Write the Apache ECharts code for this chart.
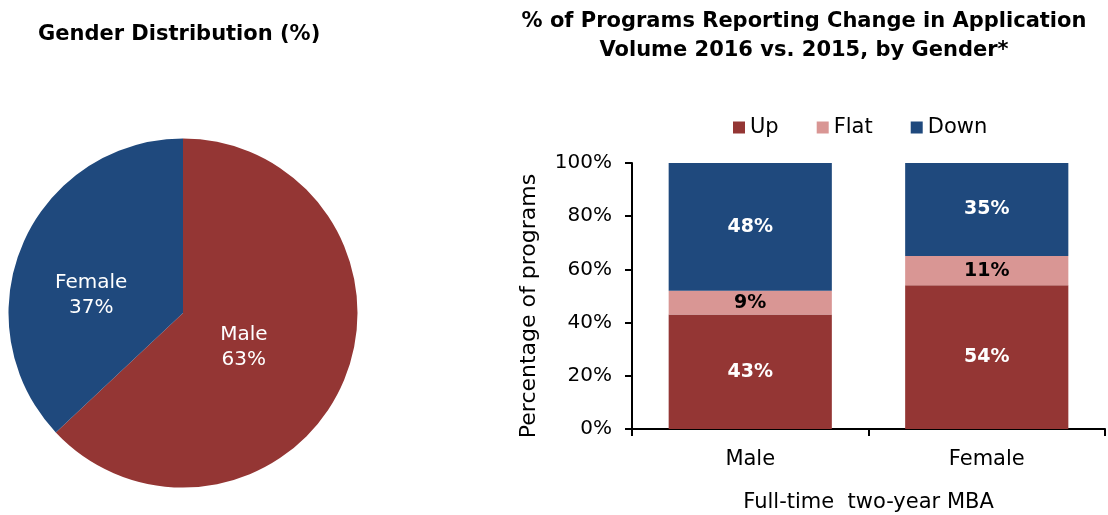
<!DOCTYPE html>
<html><head><meta charset="utf-8">
<script src="https://cdn.jsdelivr.net/npm/echarts@6/dist/echarts.min.js"></script>
<style>html,body{margin:0;padding:0;background:#fff}#c{width:1108px;height:515px}</style>
</head><body><div id="c"></div>
<script>
const pieNames = ['Male', 'Female'];
const pieValues = [63, 37];
const categories = ['Male', 'Female'];
const upValues = [43, 54];
const flatValues = [9, 11];
const downValues = [48, 35];
const yTicks = [0, 20, 40, 60, 80, 100];

const RED = '#943634', PINK = '#D99694', BLUE = '#1F497D';
const FONT = 'DejaVu Sans';
const chart = echarts.init(document.getElementById('c'));
function barSeries(name, data, color, labelColor) {
  return {
    name, type: 'bar', stack: 'a', data, barCategoryGap: '31%',
    itemStyle: { color },
    label: { show: true, position: 'inside', formatter: '{c}%', color: labelColor, fontSize: 19, fontWeight: 'bold', fontFamily: FONT }
  };
}
chart.setOption({
  animation: false,
  textStyle: { fontFamily: FONT },
  title: [
    { text: 'Gender Distribution (%)', left: 33, top: 19, textStyle: { fontSize: 21, fontWeight: 'bold', color: '#000', fontFamily: FONT } },
    { text: '% of Programs Reporting Change in Application\nVolume 2016 vs. 2015, by Gender*', left: 799, textAlign: 'center', top: 2, textStyle: { fontSize: 21, fontWeight: 'bold', color: '#000', lineHeight: 29, fontFamily: FONT } }
  ],
  legend: {
    data: ['Up', 'Flat', 'Down'], left: 733, top: 117, padding: 0, itemWidth: 12, itemHeight: 12, itemGap: 38,
    icon: 'rect', textStyle: { fontSize: 21, color: '#000', fontFamily: FONT }
  },
  grid: { left: 632, right: 3, top: 163, bottom: 86, outerBoundsMode: 'none', containLabel: false },
  xAxis: {
    type: 'category', data: categories,
    name: 'Full-time  two-year MBA', nameLocation: 'middle', nameGap: 63,
    nameTextStyle: { fontSize: 21, color: '#000', fontFamily: FONT },
    axisLine: { lineStyle: { color: '#000', width: 2 } },
    axisTick: { show: true, length: 7, lineStyle: { color: '#000', width: 2 } },
    axisLabel: { fontSize: 21, color: '#000', margin: 20, fontFamily: FONT }
  },
  yAxis: {
    type: 'value', min: yTicks[0], max: yTicks[yTicks.length - 1], interval: 20,
    name: 'Percentage of programs', nameLocation: 'middle', nameGap: 92, nameRotate: 90,
    nameTextStyle: { fontSize: 22, color: '#000', fontFamily: FONT, padding: [0, 20, 0, 0] },
    axisLine: { show: true, lineStyle: { color: '#000', width: 2 } },
    axisTick: { show: true, length: 7, lineStyle: { color: '#000', width: 2 } },
    splitLine: { show: false },
    axisLabel: { fontSize: 20, color: '#000', margin: 20, formatter: '{value}%', fontFamily: FONT }
  },
  series: [
    {
      type: 'pie', center: [183, 313], radius: 174.5, startAngle: 90, clockwise: true,
      data: pieNames.map((n, i) => ({ name: n, value: pieValues[i], itemStyle: { color: i === 0 ? RED : BLUE },
        label: { offset: i === 0 ? [-22, -2] : [-9, 18] } })),
      label: { show: true, position: 'inside', formatter: '{b}\n{c}%', color: '#fff', fontSize: 20, lineHeight: 25, fontFamily: FONT },
      labelLine: { show: false }, emphasis: { disabled: true }, legendHoverLink: false
    },
    barSeries('Up', upValues, RED, '#fff'),
    barSeries('Flat', flatValues, PINK, '#000'),
    barSeries('Down', downValues, BLUE, '#fff')
  ]
});
</script></body></html>
